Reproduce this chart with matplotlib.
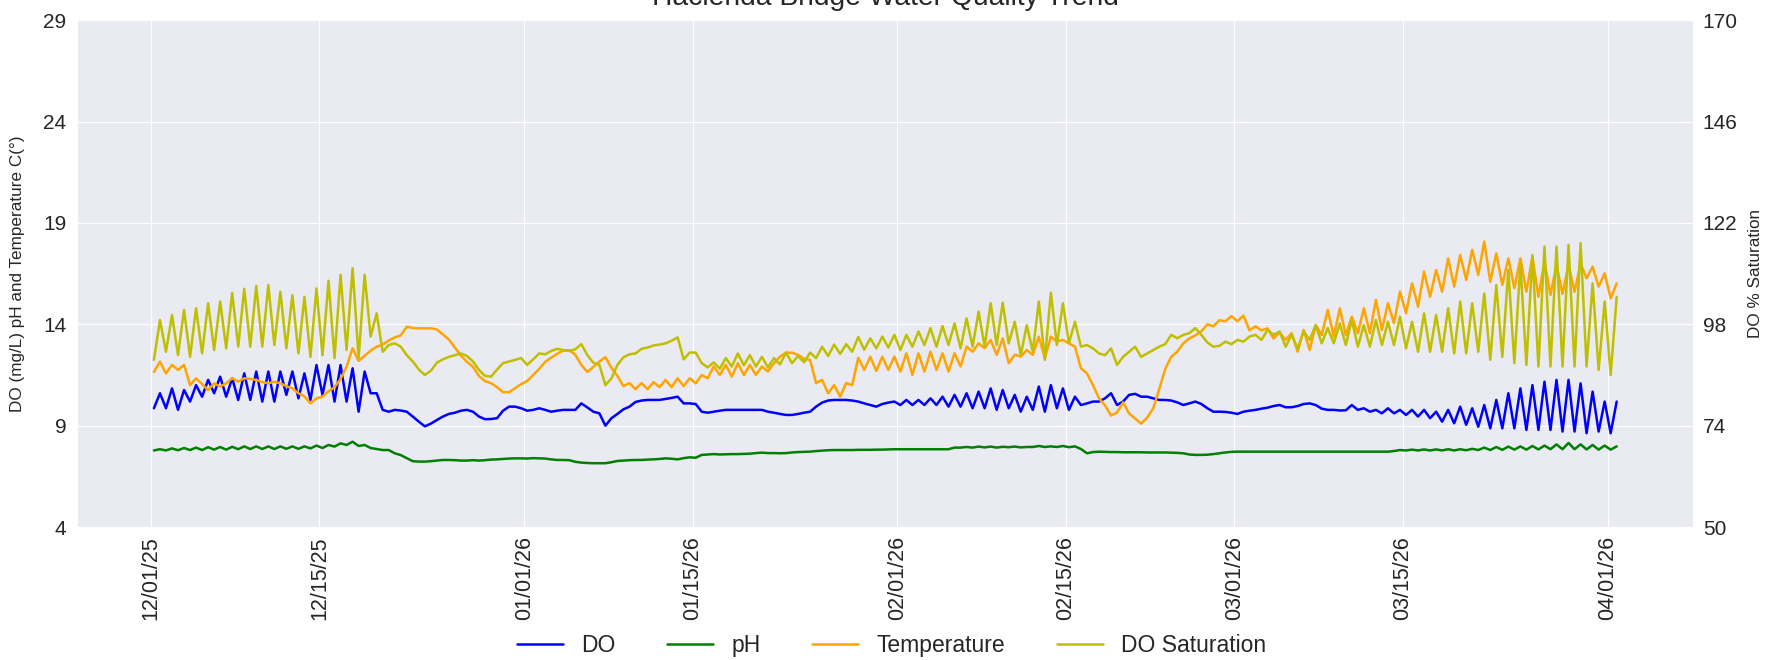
import numpy as np
import pandas as pd
import matplotlib
matplotlib.use("Agg")
import matplotlib.pyplot as plt
import matplotlib.dates as mdates
import seaborn as sns

# ---------------- data (daily morning low / afternoon high) ----------------
start_time = "2025-12-01 06:00"
n_days = 122

do_low = [9.86, 9.86, 9.78, 10.19, 10.43, 10.6, 10.43, 10.27, 10.27, 10.19,
          10.19, 10.52, 10.35, 10.27, 10.52, 10.19, 10.19, 9.69, 10.6, 9.78,
          9.78, 9.69, 9.2, 9.1, 9.45, 9.64, 9.78, 9.45, 9.33, 9.74,
          9.94, 9.74, 9.86, 9.69, 9.78, 9.78, 9.9, 9.61, 9.37, 9.81,
          10.17, 10.27, 10.27, 10.37, 10.1, 10.07, 9.64, 9.74, 9.78, 9.78,
          9.78, 9.69, 9.58, 9.53, 9.64, 9.94, 10.24, 10.27, 10.24, 10.1,
          9.94, 10.14, 10.02, 10.02, 10.02, 10.02, 9.94, 9.94, 9.86, 9.86,
          9.78, 9.86, 9.69, 9.78, 9.69, 9.86, 9.78, 10.02, 10.19, 10.35,
          10.02, 10.52, 10.43, 10.35, 10.27, 10.15, 10.1, 10.07, 9.69, 9.68,
          9.58, 9.74, 9.84, 9.97, 9.91, 9.97, 10.1, 9.84, 9.78, 9.76,
          9.78, 9.69, 9.61, 9.61, 9.53, 9.45, 9.37, 9.2, 9.12, 9.04,
          8.95, 8.87, 8.87, 8.87, 8.79, 8.79, 8.79, 8.71, 8.71, 8.63,
          8.71, 8.63]
do_high = [10.6, 10.84, 10.76, 11.0, 11.26, 11.42, 11.34, 11.58, 11.67, 11.67,
           11.67, 11.67, 11.58, 11.99, 11.99, 11.99, 11.83, 11.67, 10.6, 9.69,
           9.75, 9.45, 8.97, 9.28, 9.58, 9.74, 9.69, 9.32, 9.37, 9.94,
           9.86, 9.78, 9.78, 9.74, 9.78, 10.1, 9.69, 9.0, 9.58, 9.94,
           10.24, 10.27, 10.32, 10.43, 10.1, 9.69, 9.69, 9.78, 9.78, 9.78,
           9.78, 9.64, 9.53, 9.58, 9.69, 10.14, 10.27, 10.27, 10.19, 10.02,
           10.07, 10.19, 10.27, 10.27, 10.35, 10.43, 10.52, 10.6, 10.68, 10.84,
           10.76, 10.52, 10.43, 10.93, 11.0, 10.84, 10.43, 10.1, 10.19, 10.6,
           10.19, 10.57, 10.43, 10.27, 10.24, 10.02, 10.19, 9.86, 9.69, 9.64,
           9.69, 9.78, 9.89, 10.02, 9.91, 10.07, 10.02, 9.78, 9.75, 10.02,
           9.86, 9.78, 9.86, 9.78, 9.78, 9.78, 9.69, 9.78, 9.94, 9.86,
           10.02, 10.27, 10.6, 10.84, 11.0, 11.17, 11.26, 11.26, 11.09, 10.68,
           10.19, 10.19]

ph_low = [7.78, 7.78, 7.79, 7.8, 7.8, 7.82, 7.82, 7.84, 7.85, 7.85,
          7.85, 7.86, 7.86, 7.88, 7.9, 7.97, 8.05, 8.0, 7.9, 7.8,
          7.64, 7.4, 7.23, 7.25, 7.31, 7.3, 7.28, 7.28, 7.33, 7.36,
          7.39, 7.38, 7.39, 7.34, 7.31, 7.22, 7.16, 7.15, 7.2, 7.28,
          7.31, 7.33, 7.36, 7.37, 7.4, 7.42, 7.58, 7.58, 7.6, 7.61,
          7.65, 7.65, 7.64, 7.68, 7.71, 7.75, 7.79, 7.8, 7.8, 7.81,
          7.82, 7.83, 7.84, 7.84, 7.84, 7.84, 7.84, 7.92, 7.92, 7.93,
          7.92, 7.94, 7.93, 7.95, 7.95, 7.95, 7.94, 7.85, 7.7, 7.71,
          7.7, 7.69, 7.69, 7.68, 7.68, 7.66, 7.58, 7.56, 7.6, 7.68,
          7.72, 7.72, 7.72, 7.72, 7.72, 7.72, 7.72, 7.72, 7.72, 7.72,
          7.72, 7.72, 7.72, 7.75, 7.78, 7.78, 7.78, 7.78, 7.78, 7.79,
          7.8, 7.8, 7.81, 7.82, 7.82, 7.83, 7.84, 7.84, 7.84, 7.83,
          7.82, 7.82]
ph_high = [7.84, 7.88, 7.9, 7.92, 7.94, 7.95, 7.96, 7.98, 7.98, 7.98,
           7.98, 7.98, 7.98, 8.02, 8.05, 8.13, 8.21, 8.05, 7.85, 7.8,
           7.55, 7.25, 7.23, 7.28, 7.31, 7.28, 7.3, 7.3, 7.34, 7.38,
           7.39, 7.4, 7.38, 7.31, 7.3, 7.18, 7.15, 7.15, 7.26, 7.3,
           7.31, 7.34, 7.39, 7.34, 7.44, 7.56, 7.6, 7.59, 7.6, 7.62,
           7.67, 7.65, 7.65, 7.7, 7.72, 7.77, 7.8, 7.8, 7.81, 7.81,
           7.82, 7.84, 7.84, 7.84, 7.84, 7.84, 7.92, 7.95, 7.97, 7.97,
           7.96, 7.97, 7.95, 8.0, 7.98, 8.0, 7.98, 7.64, 7.72, 7.7,
           7.69, 7.69, 7.68, 7.68, 7.67, 7.64, 7.56, 7.57, 7.64, 7.71,
           7.72, 7.72, 7.72, 7.72, 7.72, 7.72, 7.72, 7.72, 7.72, 7.72,
           7.72, 7.72, 7.72, 7.8, 7.82, 7.83, 7.83, 7.84, 7.84, 7.86,
           7.92, 7.95, 7.97, 7.98, 8.0, 8.02, 8.08, 8.15, 8.08, 8.05,
           8.02, 7.98]

temp_low = [11.65, 11.58, 11.75, 11.0, 11.05, 11.09, 11.09, 11.17, 11.3, 11.15,
            11.17, 10.95, 10.6, 10.1, 10.43, 10.9, 11.9, 12.2, 12.7, 13.0,
            13.35, 13.88, 13.8, 13.8, 13.5, 12.85, 12.15, 11.45, 11.1, 10.65,
            10.85, 11.2, 11.8, 12.35, 12.7, 12.5, 11.65, 12.16, 11.85, 10.95,
            10.8, 10.8, 10.9, 10.9, 10.95, 11.09, 11.34, 11.5, 11.42, 11.5,
            11.5, 11.67, 12.4, 12.6, 12.3, 11.1, 10.6, 10.43, 11.0, 11.75,
            11.7, 11.75, 11.67, 11.5, 11.67, 11.75, 11.67, 11.92, 12.65, 12.82,
            12.49, 12.08, 12.41, 12.49, 12.32, 13.15, 13.06, 11.83, 11.0, 10.0,
            9.65, 9.6, 9.1, 9.85, 11.8, 12.65, 13.3, 13.65, 13.9, 14.15,
            14.15, 13.7, 13.7, 13.3, 13.23, 12.65, 12.73, 13.47, 13.39, 13.47,
            13.56, 13.56, 13.72, 14.05, 14.54, 14.87, 15.36, 15.61, 15.86, 16.19,
            16.43, 16.1, 15.94, 15.78, 15.61, 15.36, 15.45, 15.5, 15.6, 16.27,
            15.86, 15.28]
temp_high = [12.16, 12.0, 12.0, 11.34, 10.76, 10.93, 11.34, 11.34, 11.26, 11.09,
             11.09, 10.84, 10.45, 10.35, 10.7, 11.3, 12.82, 12.45, 12.9, 13.2,
             13.45, 13.82, 13.8, 13.75, 13.25, 12.45, 11.9, 11.2, 10.9, 10.65,
             11.05, 11.5, 12.15, 12.55, 12.72, 12.0, 11.9, 12.38, 11.45, 11.1,
             11.1, 11.15, 11.26, 11.34, 11.34, 11.5, 11.92, 12.0, 12.08, 12.0,
             11.92, 12.08, 12.6, 12.49, 12.24, 11.26, 11.0, 11.1, 12.35, 12.4,
             12.4, 12.41, 12.57, 12.57, 12.65, 12.57, 12.57, 12.9, 13.06, 13.23,
             13.31, 12.5, 12.73, 13.39, 13.39, 13.23, 12.9, 11.58, 10.35, 9.5,
             10.15, 9.35, 9.4, 10.8, 12.4, 13.06, 13.45, 14.0, 14.2, 14.4,
             14.43, 13.9, 13.8, 13.6, 13.56, 13.72, 13.97, 14.71, 14.79, 14.38,
             14.79, 15.2, 15.04, 15.61, 16.02, 16.6, 16.68, 17.25, 17.42, 17.67,
             18.08, 17.5, 17.25, 17.25, 17.34, 17.1, 16.93, 16.95, 17.0, 16.84,
             16.51, 16.02]

sat_low = [89.6, 91.5, 90.7, 90.3, 91.1, 91.9, 92.3, 92.7, 92.7, 92.7,
           93.1, 92.3, 91.1, 90.3, 90.7, 90.0, 91.9, 90.0, 95.1, 91.5,
           93.5, 90.7, 87.3, 87.0, 89.7, 90.7, 90.5, 87.2, 85.6, 88.8,
           89.6, 88.4, 91.1, 91.7, 91.9, 92.1, 90.7, 88.4, 85.2, 90.2,
           91.1, 92.5, 93.2, 94.1, 89.7, 91.3, 87.8, 87.5, 88.0, 88.3,
           88.0, 87.8, 88.5, 88.8, 89.0, 90.0, 90.5, 91.0, 91.5, 92.0,
           92.3, 92.5, 91.9, 92.7, 93.1, 92.7, 93.1, 92.3, 92.7, 92.7,
           93.1, 93.5, 90.7, 91.5, 89.6, 93.1, 93.5, 92.7, 92.3, 90.7,
           88.4, 91.5, 90.3, 91.9, 93.3, 94.7, 95.9, 95.5, 92.7, 93.9,
           94.3, 95.1, 94.3, 95.5, 92.7, 92.3, 94.3, 93.5, 93.5, 93.1,
           92.7, 92.7, 93.1, 93.1, 92.3, 91.5, 91.5, 91.5, 91.1, 91.1,
           91.5, 89.6, 90.3, 88.8, 88.4, 88.0, 88.0, 88.0, 88.0, 88.0,
           87.2, 86.0]
sat_high = [99.0, 100.2, 101.4, 101.8, 103.0, 103.4, 105.4, 106.4, 107.1, 107.3,
            105.7, 104.9, 104.5, 106.5, 108.3, 109.7, 111.3, 109.7, 100.6, 93.1,
            92.7, 89.2, 86.0, 88.9, 90.3, 91.1, 89.2, 85.8, 87.3, 89.2,
            90.0, 89.7, 90.9, 92.2, 91.7, 93.3, 88.9, 83.6, 88.4, 90.9,
            92.2, 93.0, 93.5, 94.9, 91.3, 88.8, 89.0, 90.0, 91.1, 90.7,
            90.3, 90.0, 91.3, 90.5, 91.3, 92.7, 93.2, 93.3, 95.0, 94.7,
            95.1, 95.5, 95.5, 96.3, 97.1, 97.6, 98.2, 99.4, 101.0, 103.0,
            103.1, 98.6, 97.8, 103.4, 105.5, 103.0, 98.6, 93.1, 91.1, 92.3,
            90.3, 92.7, 91.1, 92.7, 95.5, 95.5, 97.1, 93.7, 92.9, 93.3,
            93.9, 95.5, 96.7, 96.3, 95.5, 96.3, 97.8, 97.1, 98.2, 99.0,
            97.8, 99.0, 98.6, 99.8, 98.6, 100.6, 100.2, 101.8, 103.4, 103.0,
            105.3, 107.3, 110.9, 112.4, 114.4, 116.4, 116.4, 116.8, 117.2, 107.7,
            103.4, 104.5]

left_ticks = [4, 9, 14, 19, 24, 29]
right_ticks = [50, 74, 98, 122, 146, 170]
series_labels = ["DO", "pH", "Temperature", "DO Saturation"]


def interleave(low, high):
    return np.column_stack([low, high]).ravel()


times = pd.date_range(start_time, periods=2 * n_days, freq="12h")
do_vals = interleave(do_low, do_high)
ph_vals = interleave(ph_low, ph_high)
temp_vals = interleave(temp_low, temp_high)
sat_vals = interleave(sat_low, sat_high)

# ---------------- style ----------------
sns.set_style("darkgrid")
plt.rcParams["font.family"] = ["Liberation Sans", "DejaVu Sans"]

W, H = 1789, 660
fig = plt.figure(figsize=(W / 100, H / 100), dpi=100)
ax_l, ax_r, ax_t, ax_b = 77.5, 1693, 20.1, 527.1
ax = fig.add_axes([ax_l / W, 1 - ax_b / H, (ax_r - ax_l) / W, (ax_b - ax_t) / H])
ax2 = ax.twinx()

lw = 1.8
l1, = ax.plot(times, do_vals, color="blue", lw=lw, label=series_labels[0])
l2, = ax.plot(times, ph_vals, color="green", lw=lw, label=series_labels[1])
l3, = ax.plot(times, temp_vals, color="orange", lw=lw, label=series_labels[2])
l4, = ax2.plot(times, sat_vals, color="y", lw=lw, label=series_labels[3])

ax.set_ylim(left_ticks[0], left_ticks[-1])
ax.set_yticks(left_ticks)
ax2.set_ylim(right_ticks[0], right_ticks[-1])
ax2.set_yticks(right_ticks)
ax2.grid(False)

t0 = pd.Timestamp("2025-12-01 00:00")
t1 = pd.Timestamp("2026-04-01 23:45")
span = t1 - t0
ax.set_xlim(t0 - 0.05 * span, t1 + 0.05 * span)
ax.xaxis.set_major_locator(mdates.DayLocator(bymonthday=[1, 15]))
ax.xaxis.set_major_formatter(mdates.DateFormatter("%m/%d/%y"))
for lab in ax.get_xticklabels():
    lab.set_rotation(90)

ax.tick_params(axis="x", labelsize=15.5, pad=6.5, length=0, colors="#262626")
ax.tick_params(axis="y", labelsize=15, pad=8, length=0, colors="#262626")
ax2.tick_params(axis="y", labelsize=15, pad=7, length=0, colors="#262626")

for a in (ax, ax2):
    for s in a.spines.values():
        s.set_visible(False)

ax.set_ylabel("DO (mg/L) pH and Temperature C(°)", fontsize=12.3, color="#262626")
ax.yaxis.set_label_coords((25 - ax_l) / (ax_r - ax_l), 0.5)
ax2.set_ylabel("DO % Saturation", fontsize=12.3, color="#262626")
ax2.yaxis.set_label_coords((1748 - ax_l) / (ax_r - ax_l), 0.5)

fig.text((ax_l + ax_r) / 2 / W, 1 - 5 / H, "Hacienda Bridge Water Quality Trend",
         ha="center", va="baseline", fontsize=20.3, color="#262626")

fig.legend(handles=[l1, l2, l3, l4], loc="center", bbox_to_anchor=(0.4984, 1 - 645.5 / H),
           ncol=4, frameon=False, fontsize=16.5, columnspacing=2.25)

fig.savefig("out.png", dpi=100)
